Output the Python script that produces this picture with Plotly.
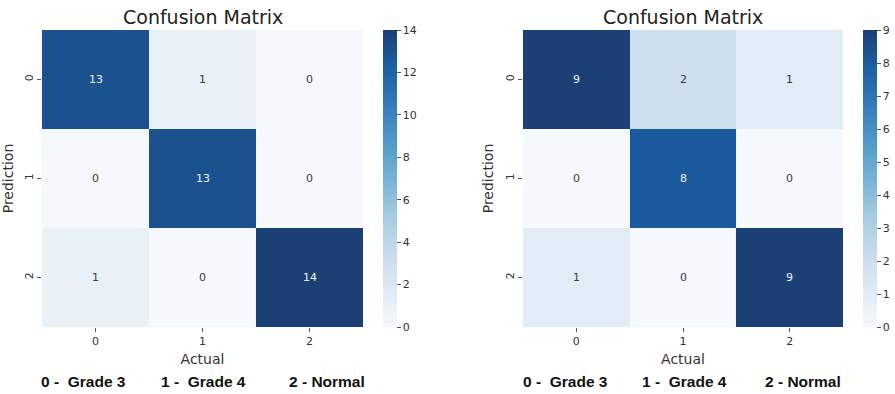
import plotly.graph_objects as go

# Confusion matrices (rows = Prediction, columns = Actual)
labels = ["0", "1", "2"]
cm_left = [[13, 1, 0],
           [0, 13, 0],
           [1, 0, 14]]
cm_right = [[9, 2, 1],
            [0, 8, 0],
            [1, 0, 9]]
left_max = 14
right_max = 9
class_names = ["0 -  Grade 3", "1 -  Grade 4", "2 - Normal"]

W, H = 895, 394
FONT = "DejaVu Sans"
GREY = "#333333"

# Blues palette, slightly softened
blues_hex = ["#f7fbff", "#deebf7", "#c6dbef", "#9ecae1", "#6baed6",
             "#4292c6", "#2171b5", "#08519c", "#08306b"]


def soften(h):
    r, g, b = (int(h[i:i + 2], 16) for i in (1, 3, 5))
    f = lambda c: int(round(20 + c * 0.91))
    return f"rgb({f(r)},{f(g)},{f(b)})"


colorscale = [[i / (len(blues_hex) - 1), soften(h)] for i, h in enumerate(blues_hex)]


def px_x(v):
    return v / W


def px_y(v):
    return 1 - v / H


fig = go.Figure()

panels = [
    dict(z=cm_left, zmax=left_max, x0=42, x1=363, cb=383, xa="x", ya="y",
         dtick=2, legend_x=[83, 203, 327]),
    dict(z=cm_right, zmax=right_max, x0=523, x1=843, cb=863, xa="x2", ya="y2",
         dtick=1, legend_x=[565, 684, 803]),
]

top, bottom = 30, 327

for i, p in enumerate(panels):
    z = p["z"]
    fig.add_trace(go.Heatmap(
        z=z, x=labels, y=labels,
        colorscale=colorscale, zmin=0, zmax=p["zmax"],
        xaxis=p["xa"], yaxis=p["ya"],
        showscale=True,
        colorbar=dict(
            x=px_x(p["cb"]), xanchor="left", xref="paper", xpad=0,
            y=px_y(bottom), yanchor="bottom", len=(bottom - top) / H,
            lenmode="fraction", ypad=0, thickness=14, outlinewidth=0,
            ticks="outside", ticklen=4, tickcolor="#555555",
            tickfont=dict(family=FONT, size=11, color=GREY),
            dtick=p["dtick"], tick0=0,
        ),
        hoverinfo="skip",
    ))
    # cell annotations
    for r in range(3):
        for c in range(3):
            v = z[r][c]
            color = "#eef2f8" if v / p["zmax"] > 0.55 else "#3a3a3a"
            fig.add_annotation(
                x=labels[c], y=labels[r], xref=p["xa"], yref=p["ya"],
                text=str(v), showarrow=False,
                font=dict(family=FONT, size=11, color=color),
            )
    # title
    cx = (p["x0"] + p["x1"]) / 2
    fig.add_annotation(
        x=px_x(cx), y=px_y(17), xref="paper", yref="paper",
        text="Confusion Matrix", showarrow=False,
        font=dict(family=FONT, size=19, color="#222222"),
        xanchor="center", yanchor="middle",
    )
    # class legend under the axis
    for name, lx in zip(class_names, p["legend_x"]):
        fig.add_annotation(
            x=px_x(lx), y=px_y(381), xref="paper", yref="paper",
            text="<b>" + name + "</b>", showarrow=False,
            font=dict(family="Liberation Sans", size=15.5, color="#111111"),
            xanchor="center", yanchor="middle",
        )

axis_common = dict(
    showgrid=False, zeroline=False, showline=False,
    ticks="outside", ticklen=4, tickcolor="#555555",
    tickfont=dict(family=FONT, size=11, color=GREY),
)

for i, p in enumerate(panels):
    sfx = "" if i == 0 else "2"
    fig.update_layout(**{
        "xaxis" + sfx: dict(
            domain=[px_x(p["x0"]), px_x(p["x1"])], anchor="y" + sfx,
            title=dict(text="Actual", standoff=6,
                       font=dict(family=FONT, size=14, color=GREY)),
            **axis_common,
        ),
        "yaxis" + sfx: dict(
            domain=[px_y(bottom), px_y(top)], anchor="x" + sfx,
            autorange="reversed", tickangle=-90,
            title=dict(text="Prediction", standoff=6,
                       font=dict(family=FONT, size=14, color=GREY)),
            **axis_common,
        ),
    })

fig.update_layout(
    width=W, height=H,
    margin=dict(l=0, r=0, t=0, b=0),
    paper_bgcolor="white", plot_bgcolor="white",
)

fig.write_html("out.html")
